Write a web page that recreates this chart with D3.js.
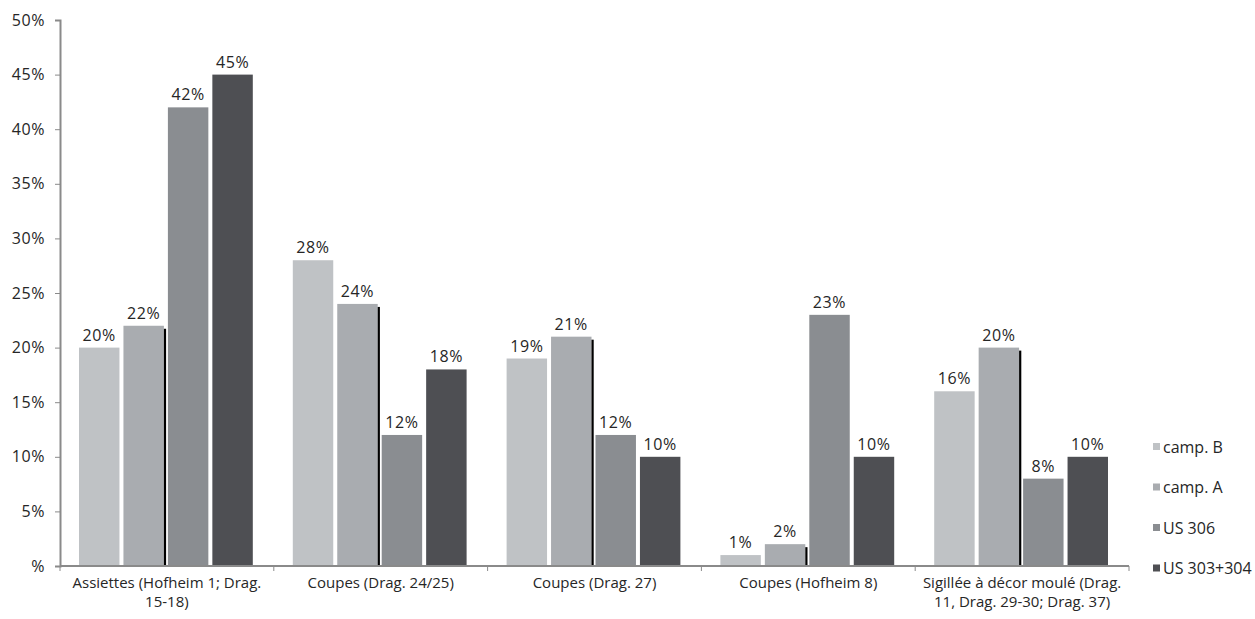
<!DOCTYPE html>
<html>
<head>
<meta charset="utf-8">
<script src="https://cdnjs.cloudflare.com/ajax/libs/d3/7.8.5/d3.min.js"></script>
<style>
  body { margin: 0; background: #fff; }
  svg text { font-family: "Open Sans", "Noto Sans", sans-serif; fill: #262626; }
</style>
</head>
<body>
<div id="chart"></div>
<script>
// categories (two-line labels)
const categories = [
  ["Assiettes (Hofheim 1; Drag.", "15-18)"],
  ["Coupes (Drag. 24/25)"],
  ["Coupes (Drag. 27)"],
  ["Coupes (Hofheim 8)"],
  ["Sigillée à décor moulé (Drag.", "11, Drag. 29-30; Drag. 37)"]
];
const seriesNames = ["camp. B", "camp. A", "US 306", "US 303+304"];
const campB = [20, 28, 19, 1, 16];
const campA = [22, 24, 21, 2, 20];
const us306 = [42, 12, 12, 23, 8];
const us303 = [45, 18, 10, 10, 10];
const yTicks = [0, 5, 10, 15, 20, 25, 30, 35, 40, 45, 50];

const colors = ["#bfc2c5", "#a9acb0", "#8a8d91", "#4e4f53"];
const series = [campB, campA, us306, us303];

const width = 1255, height = 619;
const margin = { top: 20, right: 126, bottom: 53, left: 60 };
const innerW = width - margin.left - margin.right;
const innerH = height - margin.top - margin.bottom;

const svg = d3.select('#chart').append('svg')
  .attr('width', width)
  .attr('height', height);

const chart = svg.append('g')
  .attr('transform', `translate(${margin.left}, ${margin.top})`);

const x0 = d3.scaleBand()
  .domain(d3.range(categories.length))
  .range([0, innerW]);

const x1 = d3.scaleBand()
  .domain(d3.range(seriesNames.length))
  .range([19, x0.bandwidth() - 21])
  .paddingInner(0.09);

const y = d3.scaleLinear()
  .domain([0, 50])
  .range([innerH, 0]);

// bars
const groups = chart.selectAll('g.group')
  .data(categories)
  .enter()
  .append('g')
  .attr('class', 'group')
  .attr('transform', (d, i) => `translate(${x0(i)}, 0)`);

groups.each(function(cat, ci) {
  const g = d3.select(this);
  series.forEach((vals, si) => {
    const v = vals[ci];
    g.append('rect')
      .attr('x', x1(si))
      .attr('y', y(v))
      .attr('width', x1.bandwidth())
      .attr('height', innerH - y(v))
      .attr('fill', colors[si]);

    // black shadow edge on the camp. A bar
    if (si === 1) {
      const top = Math.min(innerH, y(v) + 3);
      g.append('rect')
        .attr('x', x1(si) + x1.bandwidth())
        .attr('y', top)
        .attr('width', 2.2)
        .attr('height', innerH - top)
        .attr('fill', '#000');
    }

    g.append('text')
      .attr('x', x1(si) + x1.bandwidth() / 2)
      .attr('y', y(v) - 7)
      .attr('text-anchor', 'middle')
      .attr('font-size', 16)
      .attr('letter-spacing', 0.6)
      .text(v + '%');
  });
});

// y axis
const yAxis = d3.axisLeft(y)
  .tickValues(yTicks)
  .tickSize(5)
  .tickPadding(10)
  .tickFormat(d => d === 0 ? '%' : d + '%');

const yg = chart.append('g').call(yAxis);
yg.select('.domain').attr('stroke', '#8a8a8a').attr('stroke-width', 2);
yg.selectAll('.tick line').attr('stroke', '#8a8a8a');
yg.selectAll('.tick text')
  .attr('font-size', 16)
  .attr('letter-spacing', 0.6)
  .attr('font-family', null)
  .style('fill', '#262626');

// x axis
const xAxisG = chart.append('g').attr('transform', `translate(0, ${innerH})`);
xAxisG.append('line')
  .attr('x1', 0).attr('x2', innerW)
  .attr('y1', 0).attr('y2', 0)
  .attr('stroke', '#8a8a8a').attr('stroke-width', 2);
xAxisG.selectAll('line.tick')
  .data(d3.range(categories.length + 1))
  .enter()
  .append('line')
  .attr('class', 'tick')
  .attr('x1', i => i < categories.length ? x0(i) : innerW)
  .attr('x2', i => i < categories.length ? x0(i) : innerW)
  .attr('y1', 0).attr('y2', 5)
  .attr('stroke', '#8a8a8a');

// each label line as its own text so wrapped lines never overlap
categories.forEach((lines, ci) => {
  lines.forEach((ln, li) => {
    xAxisG.append('text')
      .attr('class', 'cat')
      .attr('text-anchor', 'middle')
      .attr('font-size', 15)
      .attr('x', x0(ci) + x0.bandwidth() / 2)
      .attr('y', 22 + li * 19)
      .text(ln);
  });
});

// legend
const legend = svg.append('g')
  .attr('transform', 'translate(1153, 443)');
seriesNames.forEach((name, i) => {
  const lg = legend.append('g').attr('transform', `translate(0, ${i * 40.5})`);
  lg.append('rect')
    .attr('width', 7).attr('height', 7)
    .attr('y', 0)
    .attr('fill', colors[i]);
  lg.append('text')
    .attr('x', 10)
    .attr('y', 4)
    .attr('dy', '0.35em')
    .attr('font-size', 16)
    .text(name);
});
</script>
</body>
</html>
